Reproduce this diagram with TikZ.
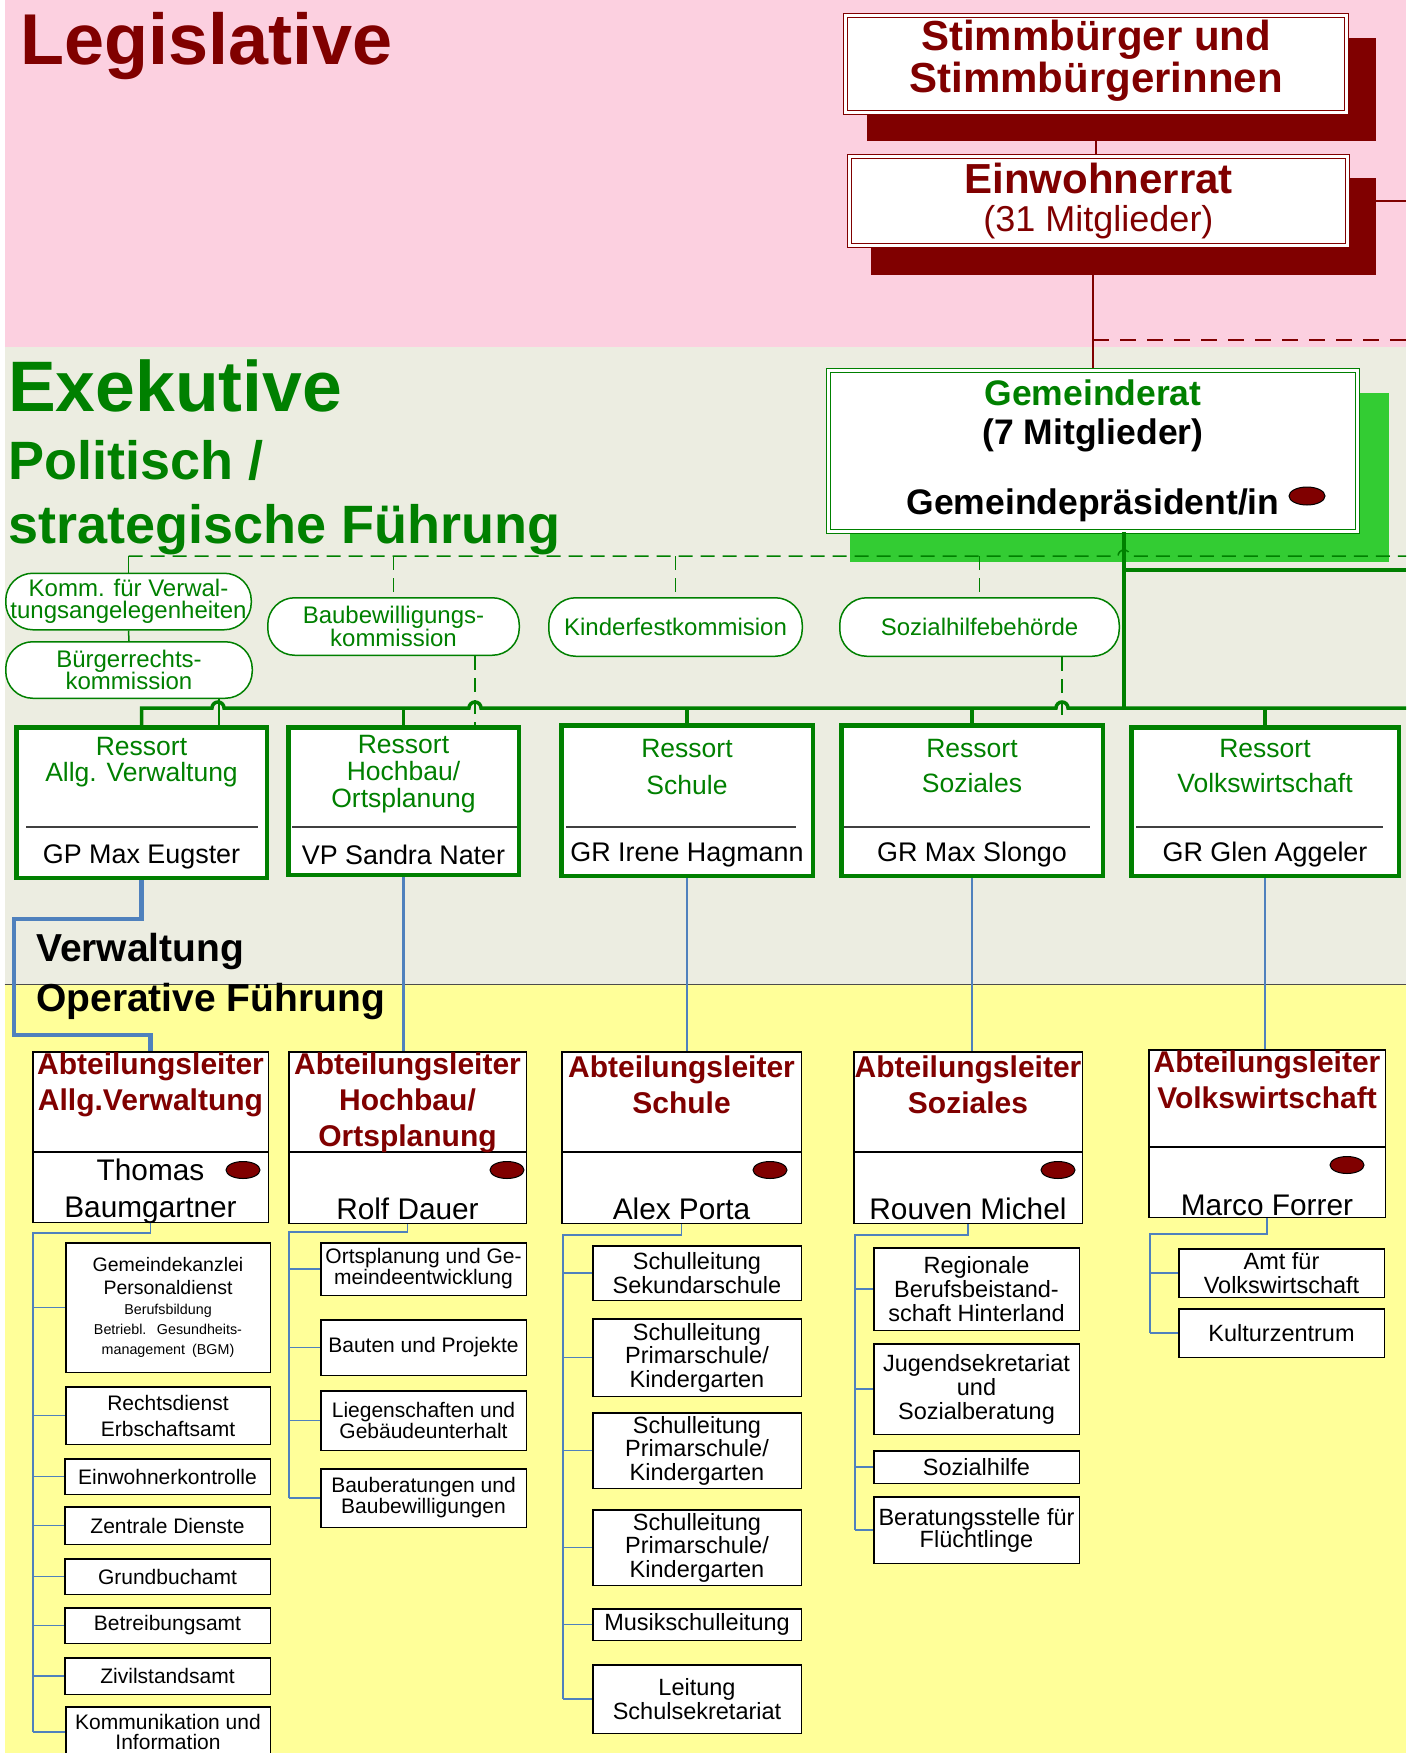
\documentclass[tikz,border=0pt]{standalone}
\usepackage{fontspec}
\setmainfont{Liberation Sans}
\usetikzlibrary{shapes.geometric}
\definecolor{legred}{HTML}{800000}
\definecolor{exgreen}{HTML}{008000}
\definecolor{shgreen}{HTML}{33CC33}
\definecolor{legbg}{HTML}{FCD0E0}
\definecolor{exbg}{HTML}{ECEDE1}
\definecolor{opbg}{HTML}{FFFF99}
\definecolor{wireblue}{HTML}{4F81BD}
\newcommand\fsz[2]{\fontsize{#1}{#2}\selectfont}
\pgfdeclarelayer{back}
\pgfdeclarelayer{wires}
\pgfsetlayers{back,wires,main}

\begin{document}
\begin{tikzpicture}[x=1pt,y=-1pt,
  headline/.style={anchor=base west,inner sep=0pt},
  legbox/.style={draw=legred,double=white,double distance=3.5pt,line width=0.9pt,fill=white,inner sep=0pt,align=center},
  kommbox/.style={draw=exgreen,line width=1.5pt,fill=white,rounded corners=27pt,inner sep=0pt,text=exgreen,align=center,font=\fsz{24}{22.5}},
  ressbox/.style={draw=exgreen,line width=4.5pt,fill=white,inner sep=0pt},
  resstext/.style={inner sep=0pt,align=center,text=exgreen},
  abtbox/.style={draw=black,line width=1.5pt,fill=white,inner sep=0pt},
  abttext/.style={inner sep=0pt,align=center,text=legred,font=\bfseries\fsz{30}{36}},
  nametext/.style={inner sep=0pt,align=center,font=\fsz{29.8}{37}},
  subbox/.style={draw=black,line width=1.5pt,fill=white,inner sep=0pt,align=center,font=\fsz{21}{21}},
  subboxb/.style={subbox,font=\fsz{23.5}{23.5}},
  reddot/.style={ellipse,draw=black,fill=legred,line width=1pt,minimum width=34pt,minimum height=17pt,inner sep=0pt},
  redwire/.style={legred,line width=1.2pt},
  gwire/.style={exgreen,line width=1.5pt},
  gdashes/.style={dash pattern=on 14pt off 8pt},
  gthick/.style={exgreen,line width=4pt},
  bus/.style={exgreen,line width=3.5pt},
  bluewire/.style={wireblue,line width=2.5pt},
  subwire/.style={wireblue,line width=1.8pt},
  divline/.style={black!75,line width=1.5pt}]

  \useasboundingbox (0,0) rectangle (1406,1753);

  % the three bands
  \begin{pgfonlayer}{back}
    \fill[white] (0,0) rectangle (1406,1753);
    \fill[legbg] (4.6,0) rectangle (1406,347);
    \fill[exbg] (4.6,347) rectangle (1406,984);
    \fill[opbg] (4.6,984) rectangle (1406,1753);
    \draw[black!70,line width=1pt] (4.6,984) -- (1406,984);
  \end{pgfonlayer}

  \node[headline,text=legred,font=\bfseries\fsz{72}{72}] (tLeg) at (20,65) {Legislative};
  \node[headline,text=exgreen,font=\bfseries\fsz{71.5}{71.5}] (tExe) at (8,411) {Exekutive};
  \node[headline,text=exgreen,font=\bfseries\fsz{54}{54}] (tPol) at (8,479) {Politisch /};
  \node[headline,text=exgreen,font=\bfseries\fsz{54}{54}] (tStr) at (8,543) {strategische Führung};
  \node[headline,font=\bfseries\fsz{39}{39}] (tVer) at (36,961) {Verwaltung};
  \node[headline,font=\bfseries\fsz{39}{39}] (tOpe) at (36,1011) {Operative Führung};

  % Legislative
  \fill[legred] (867,38) rectangle (1376,141);
  \node[legbox,minimum width=501pt,minimum height=97pt] (stimm) at (1096,64) {};
  \node[inner sep=0pt,align=center,text=legred,font=\bfseries\fsz{42}{42}] (stimmT) at (1096,61) {Stimmbürger und\\Stimmbürgerinnen};
  \fill[legred] (871,178) rectangle (1376,275);
  \node[legbox,minimum width=498pt,minimum height=89pt,text=legred,font=\fsz{36}{38}] (einw) at (1098.5,201) {{\bfseries\fsz{42}{38}Einwohnerrat}\\(31 Mitglieder)};

  % Gemeinderat
  \fill[shgreen] (850,393) rectangle (1389,562);
  \node[legbox,draw=exgreen,minimum width=529pt,minimum height=161pt,font=\bfseries\fsz{35.5}{39}] (gr) at (1093,451) {\textcolor{exgreen}{Gemeinderat}\\(7 Mitglieder)\\[31pt]Gemeindepräsident/in};
  \node[reddot,minimum width=36pt,minimum height=18pt] (grDot) at (1307,496) {};

  \coordinate (edgeR) at (1406,201);
  \coordinate (redR) at (1406,340);
  \begin{pgfonlayer}{wires}
    \draw[redwire] (stimm.south) -- (stimm.south |- einw.north);
    \draw[redwire] (einw.south -| gr.north) -- (gr.north);
    \draw[redwire] (einw.east) -- (edgeR);
    \draw[redwire,dash pattern=on 16pt off 11pt] (gr.north |- redR) -- (redR);
  \end{pgfonlayer}

  % Kommissionen
  \node[kommbox,minimum width=245.5pt,minimum height=56.5pt] (komm) at (128.5,601.5) {Komm. für Verwal-\\tungsangelegenheiten};
  \node[kommbox,minimum width=246.5pt,minimum height=56.5pt] (buerg) at (129,670) {Bürgerrechts-\\kommission};
  \node[kommbox,minimum width=251.5pt,minimum height=57.5pt] (baubew) at (393.5,626.5) {Baubewilligungs-\\kommission};
  \node[kommbox,minimum width=253.5pt,minimum height=58.5pt] (kinder) at (675.5,627) {Kinderfestkommision};
  \node[kommbox,minimum width=279.5pt,minimum height=58.5pt] (sozbeh) at (979.5,627) {Sozialhilfebehörde};

  % Ressorts
  \foreach \n/\x/\y/\w/\h in {rAllg/141.5/802.5/250.5/150.5, rHoch/403.5/801/230.5/147.5,
      rSchule/687/800.5/251.5/150.5, rSoz/972/800.5/261.5/150.5, rVolk/1265/801.5/267.5/148.5}
    \node[ressbox,minimum width=\w pt,minimum height=\h pt] (\n) at (\x,\y) {};
  \foreach \xa/\xb in {26/258,292/517,566/796,844/1090,1136/1383}
    \draw[divline] (\xa,827) -- (\xb,827);

  \node[resstext,font=\fsz{26.5}{26}] (rAllgT) at (141.5,762.5) {Ressort\\Allg. Verwaltung};
  \node[resstext,font=\fsz{26.5}{27}] (rHochT) at (403.5,774) {Ressort\\Hochbau/\\Ortsplanung};
  \node[resstext,font=\fsz{26.5}{37}] (rSchuleT) at (687,767.5) {Ressort\\Schule};
  \node[resstext,font=\fsz{26.5}{35}] (rSozT) at (972,766) {Ressort\\Soziales};
  \node[resstext,font=\fsz{26.5}{35}] (rVolkT) at (1265,766.5) {Ressort\\Volkswirtschaft};
  \node[inner sep=0pt,font=\fsz{26.9}{26}] (rAllgN) at (141.5,857) {GP Max Eugster};
  \node[inner sep=0pt,font=\fsz{26.9}{26}] (rHochN) at (403.5,854.5) {VP Sandra Nater};
  \node[inner sep=0pt,font=\fsz{26.9}{26}] (rSchuleN) at (687,854.5) {GR Irene Hagmann};
  \node[inner sep=0pt,font=\fsz{26.9}{26}] (rSozN) at (972,854.5) {GR Max Slongo};
  \node[inner sep=0pt,font=\fsz{26.9}{26}] (rVolkN) at (1265,854.5) {GR Glen Aggeler};

  % green lines of the Exekutive
  \coordinate (edgeD) at (1406,556);
  \coordinate (edgeG) at (1406,570);
  \coordinate (edgeB) at (1406,708);
  \coordinate (grFoot) at ([xshift=31pt]gr.south);
  \draw[gwire,gdashes] (komm.north |- edgeD) -- (1118,556) arc (180:360:6) -- (edgeD);
  \draw[gwire] (komm.north |- edgeD) -- (komm.north);
  \draw[gwire] (komm.south) -- (buerg.north);
  \foreach \c in {baubew,kinder,sozbeh}
    \draw[gwire,gdashes] (\c.north |- edgeD) -- (\c.north);
  \draw[gthick] (grFoot) -- (grFoot |- edgeB);
  \draw[gthick] (grFoot |- edgeG) -- (edgeG);
  \draw[bus] (rAllg.north) |- (212,708) arc (180:360:6) -- (469,708) arc (180:360:6)
    -- (1056,708) arc (180:360:6) -- (edgeB);
  \foreach \r in {rHoch,rSchule,rSoz,rVolk}
    \draw[bus] (\r.north) -- (\r.north |- edgeB);
  \coordinate (buergFoot) at ([xshift=90pt]buerg.south);
  \coordinate (baubewFoot) at ([xshift=81.5pt]baubew.south);
  \coordinate (sozbehFoot) at ([xshift=82.5pt]sozbeh.south);
  \draw[gwire] (buergFoot) -- (buergFoot |- rAllg.north);
  \draw[gwire,gdashes] (baubewFoot) -- (baubewFoot |- rHoch.north);
  \draw[gwire,gdashes] (sozbehFoot) -- (sozbehFoot |- rSoz.north);

  % Abteilungsleiter
  \foreach \n/\x/\y/\w/\h in {aAllg/150.5/1137/235.5/170.5, aHoch/407.5/1137.5/237.5/171.5,
      aSchule/681.5/1137.5/239.5/171.5, aSoz/968/1137.5/228.5/171.5, aVolk/1267/1133.5/236.5/167.5}
    \node[abtbox,minimum width=\w pt,minimum height=\h pt] (\n) at (\x,\y) {};
  \foreach \a/\y in {aAllg/1152,aHoch/1152,aSchule/1152,aSoz/1152,aVolk/1147}
    \draw[line width=1.5pt] (\a.west |- 0,\y) -- (\a.east |- 0,\y);

  \node[abttext] (aAllgT) at (150.5,1084.5) {Abteilungsleiter\\Allg.Verwaltung};
  \node[abttext] (aHochT) at (407.5,1102.5) {Abteilungsleiter\\Hochbau/\\Ortsplanung};
  \node[abttext] (aSchuleT) at (681.5,1084.5) {Abteilungsleiter\\Schule};
  \node[abttext] (aSozT) at (968,1084.5) {Abteilungsleiter\\Soziales};
  \node[abttext] (aVolkT) at (1267,1080) {Abteilungsleiter\\Volkswirtschaft};
  \node[nametext] (aAllgN) at (150.5,1191.5) {Thomas\\Baumgartner};
  \node[nametext] (aHochN) at (407.5,1209) {Rolf Dauer};
  \node[nametext] (aSchuleN) at (681.5,1209) {Alex Porta};
  \node[nametext] (aSozN) at (968,1209) {Rouven Michel};
  \node[nametext] (aVolkN) at (1267,1205) {Marco Forrer};
  \node[reddot] (aAllgD) at (243,1170) {};
  \node[reddot] (aHochD) at (507,1170) {};
  \node[reddot] (aSchuleD) at (770,1170) {};
  \node[reddot] (aSozD) at (1058,1170) {};
  \node[reddot] (aVolkD) at (1347,1165) {};

  \draw[wireblue,line width=4.5pt] (rAllg.south) |- (14,919) |- (aAllg.north |- 0,1035) -- (aAllg.north);
  \foreach \r/\a in {rHoch/aHoch,rSchule/aSchule,rSoz/aSoz,rVolk/aVolk}
    \draw[bluewire] (\r.south) -- (\r.south |- \a.north);

  % Allg. Verwaltung
  \node[subbox,minimum width=204.5pt,minimum height=129.5pt,text width=200pt] (gkanz) at (168,1307.5)
    {\fsz{19.5}{23}Gemeindekanzlei\\Personaldienst\par\fsz{14.3}{20}Berufsbildung\\Betriebl. Gesundheits-\\management (BGM)\par};
  \node[subbox,minimum width=204.5pt,minimum height=57.5pt,font=\fsz{21}{26}] (recht) at (168,1415.5) {Rechtsdienst\\Erbschaftsamt};
  \node[subbox,minimum width=205.5pt,minimum height=35.5pt] (ekontr) at (167.5,1476.5) {Einwohnerkontrolle};
  \node[subbox,minimum width=205.5pt,minimum height=37.5pt] (zentr) at (167.5,1525.5) {Zentrale Dienste};
  \node[subbox,minimum width=205.5pt,minimum height=35.5pt] (grund) at (167.5,1576.5) {Grundbuchamt};
  \node[subbox,minimum width=205.5pt,minimum height=35.5pt] (betr) at (167.5,1625.5) {Betreibungsamt};
  \node[subbox,minimum width=205.5pt,minimum height=36.5pt] (ziv) at (167.5,1676) {Zivilstandsamt};
  \node[subbox,minimum width=204.5pt,minimum height=50pt,font=\fsz{21}{20}] (kommi) at (168,1732) {Kommunikation und\\Information};
  \draw[subwire] (aAllg.south) -- (aAllg.south |- 0,1233) -| (33,0 |- kommi.west);
  \foreach \s in {gkanz,recht,ekontr,zentr,grund,betr,ziv,kommi}
    \draw[subwire] (33,0 |- \s.west) -- (\s.west);

  % Hochbau
  \node[subbox,minimum width=205.5pt,minimum height=52.5pt] (ortspl) at (423.5,1269) {Ortsplanung und Ge-\\meindeentwicklung};
  \node[subbox,minimum width=205.5pt,minimum height=55.5pt] (bauten) at (423.5,1347.5) {Bauten und Projekte};
  \node[subbox,minimum width=205.5pt,minimum height=59.5pt] (liegen) at (423.5,1420.5) {Liegenschaften und\\Gebäudeunterhalt};
  \node[subbox,minimum width=205.5pt,minimum height=58.5pt] (baubw) at (423.5,1498) {Bauberatungen und\\Baubewilligungen};
  \draw[subwire] (aHoch.south) -- (aHoch.south |- 0,1232) -| (289,0 |- baubw.west);
  \foreach \s in {ortspl,bauten,liegen,baubw}
    \draw[subwire] (289,0 |- \s.west) -- (\s.west);

  % Schule
  \node[subboxb,minimum width=208.5pt,minimum height=54.5pt] (sek) at (697,1273) {Schulleitung\\Sekundarschule};
  \node[subboxb,minimum width=208.5pt,minimum height=77.5pt] (prim1) at (697,1357.5) {Schulleitung\\Primarschule/\\Kindergarten};
  \node[subboxb,minimum width=208.5pt,minimum height=75.5pt] (prim2) at (697,1450.5) {Schulleitung\\Primarschule/\\Kindergarten};
  \node[subboxb,minimum width=208.5pt,minimum height=75.5pt] (prim3) at (697,1547.5) {Schulleitung\\Primarschule/\\Kindergarten};
  \node[subboxb,minimum width=208.5pt,minimum height=31.5pt] (musik) at (697,1624.5) {Musikschulleitung};
  \node[subboxb,minimum width=208.5pt,minimum height=68.5pt] (sekr) at (697,1699) {Leitung\\Schulsekretariat};
  \draw[subwire] (aSchule.south) -- (aSchule.south |- 0,1235) -| (563,0 |- sekr.west);
  \foreach \s in {sek,prim1,prim2,prim3,musik,sekr}
    \draw[subwire] (563,0 |- \s.west) -- (\s.west);

  % Soziales
  \node[subboxb,minimum width=205.5pt,minimum height=82.5pt,font=\fsz{23.5}{24}] (regio) at (976.5,1289) {Regionale\\Berufsbeistand-\\schaft Hinterland};
  \node[subboxb,minimum width=205.5pt,minimum height=90.5pt,font=\fsz{23.5}{24}] (jugend) at (976.5,1389) {Jugendsekretariat\\und\\Sozialberatung};
  \node[subboxb,minimum width=205.5pt,minimum height=32.5pt] (sozh) at (976.5,1467) {Sozialhilfe};
  \node[subboxb,minimum width=205.5pt,minimum height=66.5pt,font=\fsz{23.5}{22}] (fluecht) at (976.5,1530) {Beratungsstelle für\\Flüchtlinge};
  \draw[subwire] (aSoz.south) -- (aSoz.south |- 0,1235) -| (855,0 |- fluecht.west);
  \foreach \s in {regio,jugend,sozh,fluecht}
    \draw[subwire] (855,0 |- \s.west) -- (\s.west);

  % Volkswirtschaft
  \node[subboxb,minimum width=205.5pt,minimum height=48.5pt,font=\fsz{23.5}{24}] (amt) at (1281.5,1273) {Amt für\\Volkswirtschaft};
  \node[subboxb,minimum width=205.5pt,minimum height=48.5pt] (kultur) at (1281.5,1333) {Kulturzentrum};
  \draw[subwire] (aVolk.south) -- (aVolk.south |- 0,1234) -| (1150,0 |- kultur.west);
  \foreach \s in {amt,kultur}
    \draw[subwire] (1150,0 |- \s.west) -- (\s.west);
\end{tikzpicture}
\end{document}
